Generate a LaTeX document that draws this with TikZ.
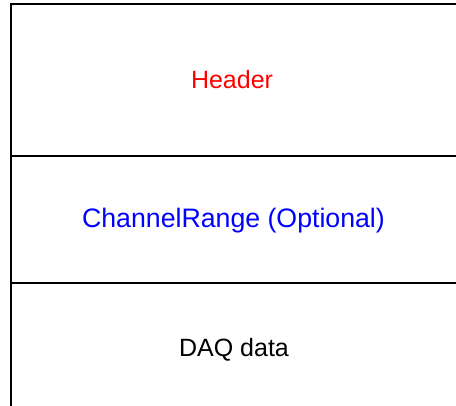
\documentclass[tikz,border=0pt]{standalone}
\usepackage{fontspec}
\setmainfont{Liberation Sans}
\definecolor{hdrred}{RGB}{255,0,0}
\definecolor{chblue}{RGB}{0,0,255}
\begin{document}
\begin{tikzpicture}[x=1pt,y=1pt,
  rule/.style={line width=2pt, line cap=rect},
  lbl/.style={anchor=base, inner sep=0pt, font=\fontsize{25}{30}\selectfont}]
\useasboundingbox (0,0) rectangle (456,406);
\fill[white] (0,0) rectangle (456,406);
\coordinate (tl) at (11,402);
\coordinate (tr) at (457,402);
\coordinate (bl) at (11,-2);
\coordinate (m1l) at (11,250);
\coordinate (m1r) at (457,250);
\coordinate (m2l) at (11,123);
\coordinate (m2r) at (457,123);
\draw[rule] (bl) -- (tl) -- (tr);
\draw[rule] (m1l) -- (m1r);
\draw[rule] (m2l) -- (m2r);
\node[lbl, text=hdrred] (header) at (232,317) {Header};
\node[lbl, text=chblue, font=\fontsize{26.7}{32}\selectfont] (range) at (233.5,178) {ChannelRange (Optional)};
\node[lbl, text=black] (daq) at (234,49) {DAQ data};
\end{tikzpicture}
\end{document}
